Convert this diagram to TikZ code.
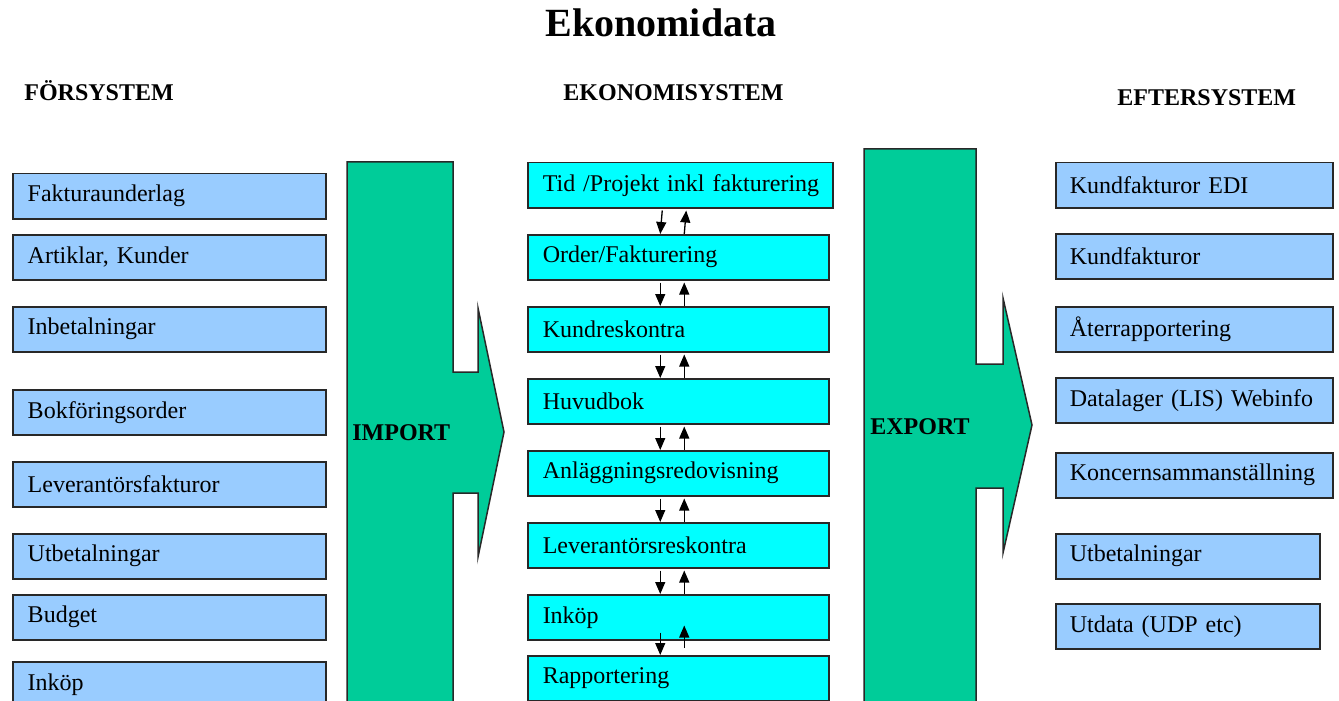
\documentclass[tikz,border=0pt]{standalone}
\usepackage{fontspec}
\setmainfont{Liberation Serif}
\definecolor{boxblue}{RGB}{153,204,255}
\definecolor{boxcyan}{RGB}{0,255,255}
\definecolor{flowgreen}{RGB}{0,204,153}
\definecolor{edgegray}{RGB}{40,40,40}
\usetikzlibrary{arrows.meta,positioning,calc}

\begin{document}
\begin{tikzpicture}[
  x=0.5pt,y=-0.5pt,
  every node/.style={font=\fontsize{12}{14}\selectfont},
  head/.style={font=\fontsize{12}{14}\selectfont\bfseries,inner sep=0pt,anchor=base west},
  sysbox/.style={draw=edgegray,line width=0.75pt,anchor=north west,minimum height=22.5pt,
                 inner xsep=7.5pt,inner ysep=0pt,align=left},
  forbox/.style={sysbox,fill=boxblue,text width=141.5pt},
  ekobox/.style={sysbox,fill=boxcyan,text width=135.5pt},
  eftbox/.style={sysbox,fill=boxblue,text width=124.5pt,inner xsep=7pt},
  flow/.style={draw=edgegray,line width=0.75pt,fill=flowgreen},
  updown/.style={line width=0.65pt,-{Triangle[length=6pt,width=5pt]}},
]
  \useasboundingbox (0,0) rectangle (1339,701);

  % Title
  \node[font=\fontsize{20}{24}\selectfont\bfseries,inner sep=0pt,anchor=base west]
    (title) at (545,37) {Ekonomidata};

  % Column headings
  \node[head] (hfor) at (24,101) {FÖRSYSTEM};
  \node[head] (heko) at (563,101) {EKONOMISYSTEM};
  \node[head] (heft) at (1117,106) {EFTERSYSTEM};

  % Import and export arrows
  \draw[flow] (347,162) -- (453,162) -- (453,372) -- (478,372) -- (478,308) -- (504,432)
    -- (478,557) -- (478,493) -- (453,493) -- (453,710) -- (347,710) -- cycle;
  \node[font=\fontsize{12}{14}\selectfont\bfseries,inner sep=0pt,anchor=base west]
    (imp) at (352,440) {IMPORT};

  \draw[flow] (864,149) -- (976,149) -- (976,364) -- (1003,364) -- (1003,298) -- (1032,425)
    -- (1003,553) -- (1003,488) -- (976,488) -- (976,710) -- (864,710) -- cycle;
  \node[font=\fontsize{12}{14}\selectfont\bfseries,inner sep=0pt,anchor=base west]
    (exp) at (870,434) {EXPORT};

  % Försystem
  \node[forbox] (fak) at (12,173) {Fakturaunderlag};
  \node[forbox] (art) at (12,234) {Artiklar, Kunder};
  \node[forbox] (inb) at (12,306) {Inbetalningar};
  \node[forbox] (bok) at (12,389) {Bokföringsorder};
  \node[forbox] (levf) at (12,461) {Leverantörsfakturor};
  \node[forbox] (utb) at (12,533) {Utbetalningar};
  \node[forbox] (bud) at (12,594) {Budget};
  \node[forbox] (inkf) at (12,661) {Inköp};

  % Ekonomisystem
  \node[ekobox,text width=137.5pt] (tid) at (527,162) {\mbox{Tid /Projekt inkl fakturering}};
  \node[ekobox] (ord) at (527,234) {Order/Fakturering};
  \node[ekobox] (kund) at (527,306) {Kundreskontra};
  \node[ekobox] (huv) at (527,378) {Huvudbok};
  \node[ekobox] (anl) at (527,450) {Anläggningsredovisning};
  \node[ekobox] (levr) at (527,522) {Leverantörsreskontra};
  \node[ekobox] (ink) at (527,594) {Inköp};
  \node[ekobox] (rap) at (527,655) {Rapportering};

  % Arrows between the modules
  \foreach \a/\b in {tid/ord,ord/kund,kund/huv,huv/anl,anl/levr,levr/ink}{
    \draw[updown] ([xshift=-9pt,yshift=-1pt]\a.south) -- ([xshift=-9pt]\b.north);
    \draw[updown] ([xshift=3pt]\b.north) -- ([xshift=3pt,yshift=-1pt]\a.south);
  }
  \draw[updown] ([xshift=-9pt,yshift=4pt]ink.south) -- ([xshift=-9pt]rap.north);
  \draw[updown] ([xshift=3pt,yshift=3.5pt]rap.north) -- ([xshift=3pt,yshift=7.5pt]ink.south);

  % Eftersystem
  \node[eftbox] (kedi) at (1055,162) {Kundfakturor EDI};
  \node[eftbox] (kfak) at (1055,233) {Kundfakturor};
  \node[eftbox] (ater) at (1055,306) {Återrapportering};
  \node[eftbox] (dlag) at (1055,377) {Datalager (LIS) Webinfo};
  \node[eftbox] (konc) at (1055,452) {Koncernsammanställning};
  \node[eftbox,text width=118pt] (utbe) at (1055,533) {Utbetalningar};
  \node[eftbox,text width=118pt] (utd) at (1055,603) {Utdata (UDP etc)};
\end{tikzpicture}
\end{document}
